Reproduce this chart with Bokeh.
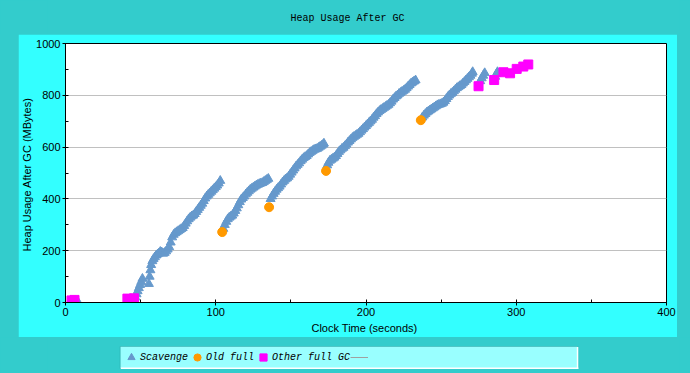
from bokeh.plotting import figure
from bokeh.layouts import column
from bokeh.models import (Range1d, FixedTicker, Legend, LegendItem, ColumnDataSource, Label,
                          BoxAnnotation)
from bokeh.embed import file_html
from bokeh.resources import INLINE

# ---------------- data ----------------
scav_t = [8,
          46.5, 47.3, 48.0, 48.8, 49.6, 50.4, 51.2,
          55.5, 56, 56.5, 57, 57.8, 58.6, 59.5, 60.4, 61.3, 62.2, 63.1, 64, 65, 66, 67, 68, 69, 70,
          71, 72, 73, 74, 75, 76, 77, 78, 79, 80, 81, 82, 83, 84, 85, 86, 87, 88, 89, 90, 91, 92,
          93, 94, 95, 96, 97, 98, 99, 100, 101, 102, 103,
          105, 106, 107, 108, 109, 110, 111, 112, 113, 114, 115, 116, 117, 118, 119, 120, 121, 122,
          123, 124, 125, 126, 127, 128, 129, 130, 131, 132, 133, 134, 135,
          136.5, 137.5, 138.5, 139.5, 140.5, 141.5, 142.5, 143.5, 144.5, 145.5, 146.5, 147.5, 148.5,
          149.5, 150.5, 151.5, 152.5, 153.5, 154.5, 155.5, 156.5, 157.5, 158.5, 159.5, 160.5, 161.5,
          162.5, 163.5, 164.5, 165.5, 166.5, 167.5, 168.5, 169.5, 170.5, 171.5, 172,
          174.2, 175, 176, 177, 178, 179, 180, 181, 182, 183, 184, 185, 186, 187, 188, 189, 190, 191,
          192, 193, 194, 195, 196, 197, 198, 199, 200, 201, 202, 203, 204, 205, 206, 207, 208, 209,
          210, 211, 212, 213, 214, 215, 216, 217, 218, 219, 220, 221, 222, 223, 224, 225, 226, 227,
          228, 229, 230, 231, 232, 233,
          237.5, 238.5, 239.5, 240.5, 241.5, 242.5, 243.5, 244.5, 245.5, 246.5, 247.5, 248.5, 249.5,
          250.5, 251.5, 252.5, 253.5, 254.5, 255.5, 256.5, 257.5, 258.5, 259.5, 260.5, 261.5, 262.5,
          263.5, 264.5, 265.5, 266.5, 267.5, 268.5, 269.5, 270.5, 271,
          276, 277, 278, 279,
          286, 287, 287.5]
scav_v = [5,
          20, 32, 44, 56, 68, 80, 92,
          72, 100, 125, 145, 160, 168, 175, 182, 186, 190, 196, 194, 189, 192, 198, 205, 214, 232,
          252, 262, 268, 272, 276, 280, 284, 288, 296, 305, 314, 322, 328, 333, 336, 342, 350, 358,
          366, 374, 382, 392, 402, 410, 416, 422, 428, 434, 440, 446, 452, 460, 470,
          285, 300, 312, 322, 328, 332, 336, 344, 354, 364, 376, 388, 398, 404, 410, 418, 424, 430,
          436, 440, 444, 448, 452, 455, 458, 460, 462, 466, 470, 474, 478,
          400, 410, 420, 428, 436, 442, 448, 456, 464, 470, 476, 480, 486,
          494, 502, 510, 518, 526, 532, 538, 546, 552, 558, 562, 566, 572,
          578, 582, 586, 590, 592, 594, 598, 602, 606, 610, 614,
          530, 540, 548, 552, 556, 560, 566, 574, 582, 588, 594, 598, 604, 610, 618, 624, 630, 636,
          640, 644, 648, 652, 658, 664, 670, 676, 682, 688, 694, 700, 706, 714, 720, 728, 734, 740,
          744, 748, 752, 756, 760, 764, 770, 776, 784, 790, 796, 800, 806, 810, 814, 818, 822, 828,
          834, 840, 846, 850, 854, 858,
          715, 722, 728, 734, 738, 742, 746, 750, 754, 758, 762, 764, 766,
          768, 772, 778, 786, 794, 800, 806, 810, 816, 822, 828, 832, 836,
          840, 846, 852, 858, 864, 870, 876, 884, 890,
          855, 866, 876, 886,
          872, 884, 890]

old_t = [104.3, 135.5, 173.4, 236.5]
old_v = [272, 368, 508, 704]

other_t = [4.0, 6.0, 41.2, 45.6, 274.9, 285.3, 291.5, 295.9, 300.3, 304.7, 308.0]
other_v = [8, 10, 15, 16, 835, 859, 889, 885, 902, 911, 919]

x_ticks = [0, 100, 200, 300, 400]
x_minor = [50, 150, 250, 350]
y_ticks = [0, 200, 400, 600, 800, 1000]
y_minor = [100, 300, 500, 700, 900]
grid_ticks = [200, 400, 600, 800]

chart_title = "Heap Usage After GC"
series_names = ["Scavenge", "Old full", "Other full GC"]

# ---------------- styles ----------------
TEAL = "#33CCCC"
CYAN = "#33FFFF"
DARK = "#1A7F7F"
C_SCAV = "#6699CC"
C_OLD = "#FF9900"
C_OTHER = "#FF00FF"
BL, BR = 45, 11          # common left/right borders (column aligns plot frames)

src_s = ColumnDataSource(dict(x=scav_t, y=scav_v))
src_o = ColumnDataSource(dict(x=old_t, y=old_v))
src_f = ColumnDataSource(dict(x=other_t, y=other_v))

# ---------------- title strip: page y 0-34 ----------------
tfig = figure(width=690, height=34, x_range=Range1d(0, 1), y_range=Range1d(0, 1),
              x_axis_type=None, y_axis_type=None, output_backend="svg", toolbar_location=None,
              min_border_left=BL, min_border_right=BR, min_border_top=0, min_border_bottom=0,
              border_fill_color=TEAL, background_fill_color=None, outline_line_color=None)
tfig.grid.visible = False
tfig.add_layout(Label(x=345 - BL, y=16, x_units="screen", y_units="screen", text=chart_title,
                      text_align="center", text_baseline="middle",
                      text_font="Liberation Mono", text_font_size="10px", text_color="black"))

# ---------------- main chart: cyan panel page x 18-677, y 34-337 ----------------
p = figure(width=659, height=303, x_range=Range1d(0, 400), y_range=Range1d(0, 1000),
           output_backend="svg", toolbar_location=None,
           min_border_left=BL, min_border_right=BR, min_border_top=9, min_border_bottom=35,
           border_fill_color=CYAN, background_fill_color="white",
           outline_line_color="black", outline_line_width=1,
           margin=(0, 0, 0, 18))

for ax in (p.xaxis[0], p.yaxis[0]):
    ax.major_label_text_font = "Liberation Sans"
    ax.major_label_text_font_size = "11px"
    ax.major_label_text_color = "black"
    ax.axis_label_text_font = "Liberation Sans"
    ax.axis_label_text_font_size = "11px"
    ax.axis_label_text_font_style = "normal"
    ax.axis_label_text_color = "black"
    ax.axis_line_color = "black"
    ax.major_tick_line_color = "black"
    ax.minor_tick_line_color = "black"
    ax.major_tick_in = 3
    ax.major_tick_out = 3
    ax.minor_tick_in = 3
    ax.minor_tick_out = 0
    ax.major_label_standoff = 2

p.xaxis.ticker = FixedTicker(ticks=x_ticks, minor_ticks=x_minor)
p.yaxis.ticker = FixedTicker(ticks=y_ticks, minor_ticks=y_minor)
p.xaxis.axis_label = "Clock Time  (seconds)"
p.yaxis.axis_label = "Heap Usage After GC  (MBytes)"
p.xaxis.axis_label_standoff = 3
p.yaxis.axis_label_standoff = 0

p.xgrid.visible = False
p.ygrid.ticker = FixedTicker(ticks=grid_ticks)
p.ygrid.grid_line_color = "#C0C0C0"

p.scatter("x", "y", source=src_s, marker="triangle", size=9, fill_color=C_SCAV, line_color=C_SCAV)
p.scatter("x", "y", source=src_o, marker="circle", size=9, fill_color=C_OLD, line_color=C_OLD)
p.scatter("x", "y", source=src_f, marker="square", size=9, fill_color=C_OTHER, line_color=C_OTHER)

# ---------------- legend strip: page y 337-373 ----------------
# frame ranges map one unit to one pixel of the strip (x: page px, y: px from strip top)
lfig = figure(width=690, height=36, x_range=Range1d(BL, 690 - BR), y_range=Range1d(36, 0),
              x_axis_type=None, y_axis_type=None, output_backend="svg", toolbar_location=None,
              min_border_left=BL, min_border_right=BR, min_border_top=0, min_border_bottom=0,
              border_fill_color=TEAL, background_fill_color=None, outline_line_color=None)
lfig.grid.visible = False
lfig.add_layout(BoxAnnotation(left=118, right=577, top=9, bottom=31,
                              fill_color="#99FFFF", fill_alpha=1,
                              line_color=DARK, line_width=1, level="image"))
lfig.add_layout(BoxAnnotation(left=118.5, right=577.5, top=30, bottom=31.5,
                              fill_color="white", fill_alpha=1, line_alpha=0, level="image"))
lfig.add_layout(BoxAnnotation(left=576, right=577.5, top=9.5, bottom=31.5,
                              fill_color="white", fill_alpha=1, line_alpha=0, level="image"))

# legend swatches reuse the series' sources on a range that keeps the points out of view
lfig.extra_x_ranges = {"off": Range1d(-2, -1)}
l_s = lfig.scatter("x", "y", source=src_s, x_range_name="off", marker="triangle", size=9,
                   fill_color=C_SCAV, line_color=C_SCAV)
l_o = lfig.scatter("x", "y", source=src_o, x_range_name="off", marker="circle", size=9,
                   fill_color=C_OLD, line_color=C_OLD)
l_f = lfig.scatter("x", "y", source=src_f, x_range_name="off", marker="square", size=9,
                   fill_color=C_OTHER, line_color=C_OTHER)
l_l = lfig.line("x", "y", source=src_f, x_range_name="off", line_color="#A0A0A0", line_width=1)

legend = Legend(items=[LegendItem(label=series_names[0], renderers=[l_s]),
                       LegendItem(label=series_names[1], renderers=[l_o]),
                       LegendItem(label=series_names[2], renderers=[l_f]),
                       LegendItem(label=" ", renderers=[l_l])],
                orientation="horizontal", location=(118 - BL, 5),
                background_fill_alpha=0, border_line_alpha=0,
                label_text_font="Liberation Mono", label_text_font_style="italic",
                label_text_font_size="10px", label_text_color="black",
                glyph_width=18, glyph_height=18, label_standoff=0, spacing=0,
                padding=2, margin=0, label_height=12)
lfig.add_layout(legend)

layout = column(tfig, p, lfig, spacing=0)

html = file_html(layout, INLINE)
html = html.replace("</head>",
                    "<style>html, body { margin: 0; padding: 0; background-color: #33CCCC; }</style></head>", 1)
open("out.html", "w").write(html)
